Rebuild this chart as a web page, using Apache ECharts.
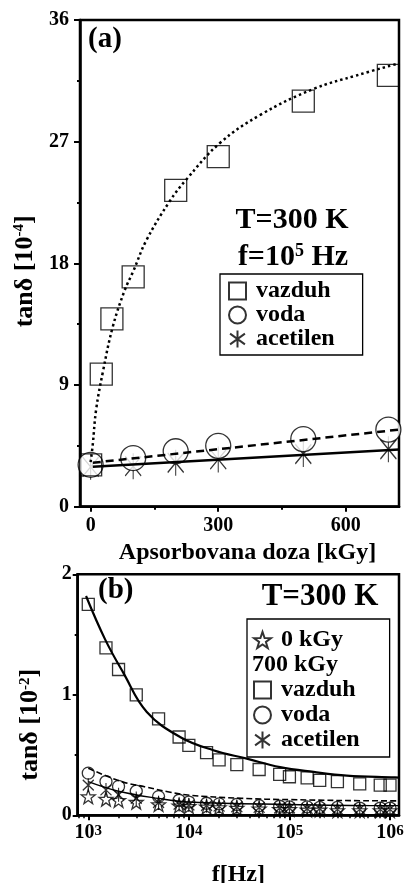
<!DOCTYPE html>
<html><head><meta charset="utf-8">
<script src="https://cdn.jsdelivr.net/npm/echarts@6/dist/echarts.min.js"></script>
<style>html,body{margin:0;padding:0;background:#fff}#c{width:405px;height:883px}</style>
</head><body><div id="c"></div>
<script>
// ---------- Panel (a): tanδ vs absorbed dose at f = 10^5 Hz ----------
const doseA = [0, 25, 50, 100, 200, 300, 500, 700];
const vazduhA = [3.1, 9.8, 13.9, 17.0, 23.4, 25.9, 30.0, 31.9];
const doseA2 = [0, 100, 200, 300, 500, 700];
const vodaA = [3.1, 3.6, 4.1, 4.5, 5.0, 5.7];
const acetilenA = [2.95, 3.0, 3.25, 3.5, 3.9, 4.25];
// fitted curves
const fitDoseVazduhA = [0, 5, 13, 29, 52, 80, 100, 131, 186, 225, 304, 400, 524, 625, 725];
const fitVazduhA = [3.3, 4.6, 7.2, 10.0, 13.3, 16.0, 17.4, 19.7, 22.6, 24.2, 26.9, 29.0, 30.9, 31.9, 32.8];
const fitDoseLinA = [5, 725];
const fitVodaA = [3.25, 5.7];
const fitAcetilenA = [2.96, 4.24];
const xLabelsA = [0, 300, 600];
const xMinorA = [150, 450];

// ---------- Panel (b): tanδ vs frequency at T = 300 K ----------
const freqB = [1000, 1500, 2000, 3000, 5000, 8000, 10000, 15000, 20000, 30000, 50000, 80000,
  100000, 150000, 200000, 300000, 500000, 800000, 1000000];
const vazduhB = [1.75, 1.39, 1.21, 1.00, 0.80, 0.65, 0.58, 0.52, 0.46, 0.42, 0.38, 0.34,
  0.32, 0.31, 0.29, 0.28, 0.26, 0.25, 0.25];
const vodaB = [0.35, 0.28, 0.24, 0.20, 0.155, 0.125, 0.11, 0.10, 0.095, 0.09, 0.08, 0.075,
  0.07, 0.07, 0.065, 0.065, 0.06, 0.06, 0.06];
const acetilenB = [0.25, 0.21, 0.17, 0.14, 0.105, 0.09, 0.085, 0.08, 0.075, 0.07, 0.065, 0.06,
  0.06, 0.055, 0.055, 0.05, 0.05, 0.05, 0.05];
const kGy0B = [0.155, 0.135, 0.125, 0.11, 0.09, 0.08, 0.075, 0.07, 0.065, 0.06, 0.055, 0.05,
  0.05, 0.045, 0.045, 0.04, 0.04, 0.04, 0.04];
const fitFreqVazduhB = [950, 1470, 2240, 3800, 8170, 17500, 37700, 80700, 174000, 372000, 1120000, 1230000];
const fitVazduhB = [1.82, 1.46, 1.18, 0.86, 0.65, 0.54, 0.47, 0.40, 0.36, 0.33, 0.315, 0.313];
const fitFreqVodaB = [1000, 2140, 3630, 6170, 9770, 33100, 100000, 1000000, 1230000];
const fitVodaB = [0.39, 0.28, 0.237, 0.196, 0.168, 0.141, 0.13, 0.12, 0.12];
const fitFreqAcetilenB = [1000, 2000, 5000, 10000, 100000, 1000000, 1230000];
const fitAcetilenB = [0.28, 0.2, 0.14, 0.11, 0.09, 0.08, 0.08];
const xLabelsB = [1000, 10000, 100000, 1000000];
const xMinorB = [800, 900, 2000, 3000, 4000, 5000, 6000, 7000, 8000, 9000,
  20000, 30000, 40000, 50000, 60000, 70000, 80000, 90000,
  200000, 300000, 400000, 500000, 600000, 700000, 800000, 900000];

const FONT = "'Liberation Serif', 'Times New Roman', serif";
const BLACK = '#000';
const asterisk = 'path://M6,0L6,20M0,2.5L12,17.5M0,17.5L12,2.5';
const asteriskIcon = 'path://M8,0L8,16M1,3L15,13M1,13L15,3';
const star = 'path://M10,0L12.35,6.76L19.51,6.91L13.8,11.24L15.88,18.09L10,14L4.12,18.09L6.2,11.24L0.49,6.91L7.65,6.76Z';

function zip(xs, ys) { return xs.map((x, i) => [x, ys[i]]); }

const hollow = { color: 'transparent', borderColor: BLACK, borderWidth: 1.3 };
const whiteFill = { color: '#fff', borderColor: BLACK, borderWidth: 1.3 };
const supRich = { sup: { fontSize: 15, fontWeight: 'bold', fontFamily: FONT, color: BLACK, verticalAlign: 'top' } };
const tickLbl = { fontSize: 20, fontWeight: 'bold', fontFamily: FONT, color: BLACK };
const legendText = { fontSize: 24, fontWeight: 'bold', fontFamily: FONT, color: BLACK, lineHeight: 20, padding: [0, 0, 0, 5] };

const chart = echarts.init(document.getElementById('c'), null, { renderer: 'canvas' });

const option = {
  backgroundColor: '#fff',
  animation: false,
  grid: [
    { left: 80, top: 20, width: 319, height: 486.7, show: true, borderColor: BLACK, borderWidth: 2.5, backgroundColor: 'transparent', outerBoundsMode: 'none' },
    { left: 77.7, top: 574.3, width: 321.3, height: 241, show: true, borderColor: BLACK, borderWidth: 2.5, backgroundColor: 'transparent', outerBoundsMode: 'none' }
  ],
  xAxis: [
    {
      gridIndex: 0, type: 'value', min: -25, max: 725, position: 'bottom',
      axisLine: { show: true, onZero: false, lineStyle: { color: BLACK, width: 2.5 } },
      axisTick: { show: true, inside: false, length: 5, customValues: xLabelsA, lineStyle: { color: BLACK, width: 2 } },
      axisLabel: { customValues: xLabelsA, margin: 9, ...tickLbl },
      splitLine: { show: false },
      name: 'Apsorbovana doza [kGy]', nameLocation: 'middle', nameGap: 33,
      nameTextStyle: { fontSize: 24, fontWeight: 'bold', fontFamily: FONT, color: BLACK, padding: [0, 0, 0, 16] }
    },
    {
      gridIndex: 0, type: 'value', min: -25, max: 725, position: 'bottom',
      axisLine: { show: false, onZero: false },
      axisTick: { show: true, inside: false, length: 3, customValues: xMinorA, lineStyle: { color: BLACK, width: 2 } },
      axisLabel: { show: false }, splitLine: { show: false }
    },
    {
      gridIndex: 1, type: 'log', logBase: 10, min: 785, max: 1229000, position: 'bottom',
      axisLine: { show: true, onZero: false, lineStyle: { color: BLACK, width: 2.5 } },
      axisTick: { show: true, inside: false, length: 5, customValues: xLabelsB, lineStyle: { color: BLACK, width: 2 } },
      axisLabel: {
        customValues: xLabelsB, margin: 8, ...tickLbl,
        formatter: v => '10{sup|' + Math.round(Math.log10(v)) + '}', rich: supRich
      },
      splitLine: { show: false },
      name: 'f[Hz]', nameLocation: 'middle', nameGap: 47,
      nameTextStyle: { fontSize: 24, fontWeight: 'bold', fontFamily: FONT, color: BLACK }
    },
    {
      gridIndex: 1, type: 'log', logBase: 10, min: 785, max: 1229000, position: 'bottom',
      axisLine: { show: false, onZero: false },
      axisTick: { show: true, inside: false, length: 3, customValues: xMinorB, lineStyle: { color: BLACK, width: 1.5 } },
      axisLabel: { show: false }, splitLine: { show: false }
    }
  ],
  yAxis: [
    {
      gridIndex: 0, type: 'value', min: 0, max: 36, interval: 9, position: 'left',
      axisLine: { show: true, onZero: false, lineStyle: { color: BLACK, width: 2.5 } },
      axisTick: { show: true, inside: false, length: 6, lineStyle: { color: BLACK, width: 2 } },
      minorTick: { show: true, splitNumber: 2, length: 3, lineStyle: { color: BLACK, width: 2 } },
      axisLabel: { margin: 11, ...tickLbl },
      splitLine: { show: false }, minorSplitLine: { show: false },
      name: 'tanδ [10{sup|-4}]', nameLocation: 'middle', nameGap: 39, nameRotate: 90,
      nameTextStyle: { fontSize: 26, fontWeight: 'bold', fontFamily: FONT, color: BLACK, padding: [0, 16, 0, 0], rich: supRich }
    },
    {
      gridIndex: 1, type: 'value', min: 0, max: 2, interval: 1, position: 'left',
      axisLine: { show: true, onZero: false, lineStyle: { color: BLACK, width: 2.5 } },
      axisTick: { show: true, inside: false, length: 5, lineStyle: { color: BLACK, width: 2 } },
      minorTick: { show: true, splitNumber: 2, length: 3, lineStyle: { color: BLACK, width: 2 } },
      axisLabel: { margin: 6, ...tickLbl },
      splitLine: { show: false }, minorSplitLine: { show: false },
      name: 'tanδ [10{sup|-2}]', nameLocation: 'middle', nameGap: 34, nameRotate: 90,
      nameTextStyle: { fontSize: 26, fontWeight: 'bold', fontFamily: FONT, color: BLACK, padding: [0, 60, 0, 0], rich: supRich }
    }
  ],
  legend: [
    {
      data: ['vazduh', 'voda', { name: 'acetilen', icon: asteriskIcon }],
      left: 220, top: 274, orient: 'vertical',
      padding: [5, 28, 4, 8], itemGap: 0, itemWidth: 17, itemHeight: 17,
      borderColor: BLACK, borderWidth: 1.3, backgroundColor: '#fff',
      selectedMode: false, textStyle: legendText
    },
    {
      data: ['0 kGy', { name: '700 kGy', icon: 'none', textStyle: { padding: [0, 0, 0, -24] } }, 'vazduh', 'voda', { name: 'acetilen', icon: asteriskIcon }],
      left: 247, top: 619, orient: 'vertical',
      padding: [9, 30, 5, 5], itemGap: 1, itemWidth: 17, itemHeight: 17,
      borderColor: BLACK, borderWidth: 1.3, backgroundColor: '#fff',
      selectedMode: false, textStyle: legendText
    }
  ],
  graphic: [
    { type: 'text', x: 88, y: 40, style: { text: '(a)', fontSize: 29, fontWeight: 'bold', fontFamily: FONT, fill: BLACK, verticalAlign: 'middle' } },
    { type: 'text', x: 292, y: 220, style: { text: 'T=300 K', fontSize: 30, fontWeight: 'bold', fontFamily: FONT, fill: BLACK, align: 'center', verticalAlign: 'middle' } },
    { type: 'text', x: 293, y: 257, style: { text: 'f=10{sup|5} Hz', fontSize: 30, fontWeight: 'bold', fontFamily: FONT, fill: BLACK, align: 'center', verticalAlign: 'middle',
        rich: { sup: { fontSize: 18, fontWeight: 'bold', fontFamily: FONT, fill: BLACK, verticalAlign: 'top' } } } },
    { type: 'text', x: 98, y: 591, style: { text: '(b)', fontSize: 29, fontWeight: 'bold', fontFamily: FONT, fill: BLACK, verticalAlign: 'middle' } },
    { type: 'text', x: 320, y: 597, style: { text: 'T=300 K', fontSize: 31, fontWeight: 'bold', fontFamily: FONT, fill: BLACK, align: 'center', verticalAlign: 'middle' } }
  ],
  series: [
    // panel (a)
    { name: 'acetilen', type: 'scatter', xAxisIndex: 0, yAxisIndex: 0, data: zip(doseA2, acetilenA),
      symbol: asterisk, symbolSize: [16, 26], itemStyle: hollow, z: 2 },
    { name: 'voda', type: 'scatter', xAxisIndex: 0, yAxisIndex: 0, data: zip(doseA2, vodaA),
      symbol: 'circle', symbolSize: 25, itemStyle: whiteFill, z: 3 },
    { name: 'vazduh', type: 'scatter', xAxisIndex: 0, yAxisIndex: 0, data: zip(doseA, vazduhA),
      symbol: 'rect', symbolSize: 22, itemStyle: hollow, z: 4 },
    { name: 'fit vazduh (a)', type: 'line', xAxisIndex: 0, yAxisIndex: 0, data: zip(fitDoseVazduhA, fitVazduhA),
      smooth: 0.4, showSymbol: false, lineStyle: { color: BLACK, width: 2.5, type: [2.5, 3] }, z: 5 },
    { name: 'fit voda (a)', type: 'line', xAxisIndex: 0, yAxisIndex: 0, data: zip(fitDoseLinA, fitVodaA),
      showSymbol: false, lineStyle: { color: BLACK, width: 2.5, type: [8, 5] }, z: 5 },
    { name: 'fit acetilen (a)', type: 'line', xAxisIndex: 0, yAxisIndex: 0, data: zip(fitDoseLinA, fitAcetilenA),
      showSymbol: false, lineStyle: { color: BLACK, width: 2.5 }, z: 5 },
    // panel (b)
    { name: '0 kGy', type: 'scatter', xAxisIndex: 2, yAxisIndex: 1, data: zip(freqB, kGy0B),
      symbol: star, symbolSize: 14, itemStyle: hollow, z: 2 },
    { name: 'acetilen', type: 'scatter', xAxisIndex: 2, yAxisIndex: 1, data: zip(freqB, acetilenB),
      symbol: asterisk, symbolSize: [11, 14], itemStyle: hollow, z: 2 },
    { name: 'voda', type: 'scatter', xAxisIndex: 2, yAxisIndex: 1, data: zip(freqB, vodaB),
      symbol: 'circle', symbolSize: 12, itemStyle: hollow, z: 3 },
    { name: 'vazduh', type: 'scatter', xAxisIndex: 2, yAxisIndex: 1, data: zip(freqB, vazduhB),
      symbol: 'rect', symbolSize: 12, itemStyle: hollow, z: 4 },
    { name: '700 kGy', type: 'scatter', xAxisIndex: 2, yAxisIndex: 1, data: [], symbol: 'none' },
    { name: 'fit vazduh (b)', type: 'line', xAxisIndex: 2, yAxisIndex: 1, data: zip(fitFreqVazduhB, fitVazduhB),
      smooth: 0.4, showSymbol: false, lineStyle: { color: BLACK, width: 2.2 }, z: 5 },
    { name: 'fit voda (b)', type: 'line', xAxisIndex: 2, yAxisIndex: 1, data: zip(fitFreqVodaB, fitVodaB),
      smooth: 0.4, showSymbol: false, lineStyle: { color: BLACK, width: 1.6, type: [6, 3] }, z: 5 },
    { name: 'fit acetilen (b)', type: 'line', xAxisIndex: 2, yAxisIndex: 1, data: zip(fitFreqAcetilenB, fitAcetilenB),
      smooth: 0.4, showSymbol: false, lineStyle: { color: BLACK, width: 1.4 }, z: 5 }
  ]
};
chart.setOption(option);
</script></body></html>
